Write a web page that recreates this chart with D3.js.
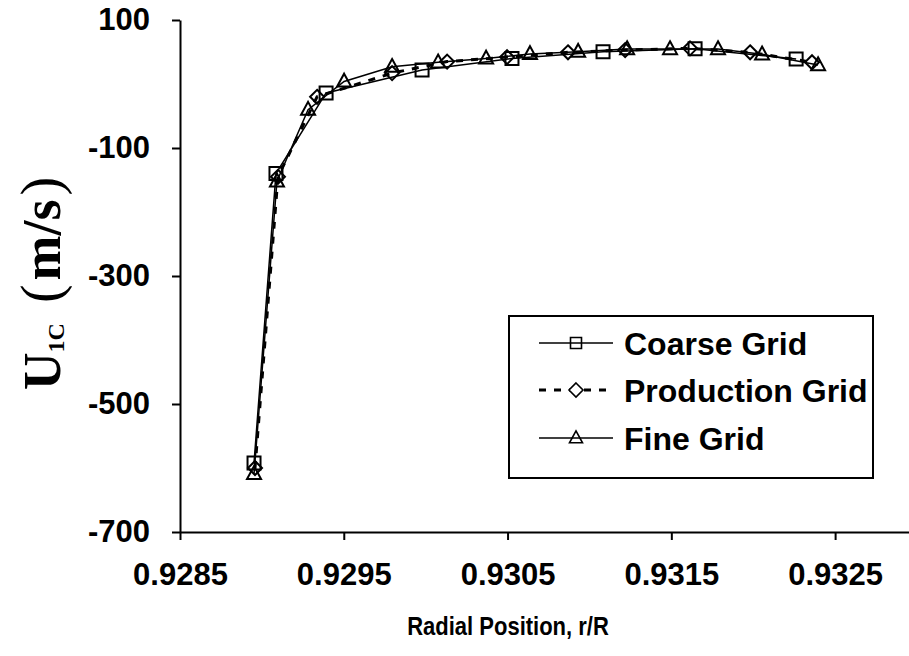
<!DOCTYPE html>
<html>
<head>
<meta charset="utf-8">
<script src="https://cdn.jsdelivr.net/npm/d3@7"></script>
<style>
  html, body { margin: 0; padding: 0; background: #fff; }
  svg { display: block; }
</style>
</head>
<body>
<svg id="chart" width="909" height="656"></svg>
<script>
// ---- data ----
const coarseR = [0.928952, 0.929086, 0.929392, 0.929978, 0.930527, 0.931083, 0.931645, 0.932262];
const coarseU = [-592, -140, -14, 22, 40, 50.5, 55, 39];

const productionR = [0.928958, 0.929098, 0.929337, 0.929795, 0.930131, 0.930497, 0.930869, 0.931218, 0.931614, 0.931981, 0.932359];
const productionU = [-600, -145, -20, 17, 35, 42, 49.5, 53, 55.7, 49.5, 34];

const fineR = [0.928952, 0.929092, 0.929282, 0.929502, 0.929795, 0.930076, 0.930369, 0.930637, 0.930931, 0.931230, 0.931492, 0.931785, 0.932054, 0.932396];
const fineU = [-609, -152, -40, 4, 27, 34, 40, 47, 50.5, 54.7, 54.7, 54.7, 46.4, 29.7];

const xTicks = [0.9285, 0.9295, 0.9305, 0.9315, 0.9325];
const yTicks = [100, -100, -300, -500, -700];
const seriesNames = ["Coarse Grid", "Production Grid", "Fine Grid"];
const xTitle = "Radial Position, r/R";

// ---- chart ----
const svg = d3.select("#chart");
const x = d3.scaleLinear().domain([0.9285, 0.9330]).range([180, 917]);
const y = d3.scaleLinear().domain([-700, 100]).range([532, 20]);

const font = "'Liberation Sans', Arial, sans-serif";

// symbols
const squareSym = { draw(ctx, size) { const h = Math.sqrt(size) / 2; ctx.rect(-h, -h, 2*h, 2*h); } };
const diamondSym = { draw(ctx, size) { const h = Math.sqrt(size) / 2; ctx.moveTo(0, -h); ctx.lineTo(h, 0); ctx.lineTo(0, h); ctx.lineTo(-h, 0); ctx.closePath(); } };
const triSym = { draw(ctx, size) { const w = Math.sqrt(size); const hh = w * 0.92; ctx.moveTo(0, -hh*0.6); ctx.lineTo(w/2, hh*0.4); ctx.lineTo(-w/2, hh*0.4); ctx.closePath(); } };

const series = [
  { name: seriesNames[0], r: coarseR, u: coarseU, sym: d3.symbol(squareSym, 169), legSym: d3.symbol(squareSym, 121), dash: null, width: 1.5 },
  { name: seriesNames[1], r: productionR, u: productionU, sym: d3.symbol(diamondSym, 196), legSym: d3.symbol(diamondSym, 196), dash: "7,8", width: 3 },
  { name: seriesNames[2], r: fineR, u: fineU, sym: d3.symbol(triSym, 196), legSym: d3.symbol(triSym, 169), dash: null, width: 1.5 }
];

const plotG = svg.append("g");

// axes
const fmtY = d => (d < 0 ? "-" + Math.abs(d) : String(d));
const yAxis = d3.axisLeft(y).tickValues(yTicks).tickSize(8).tickSizeOuter(0).tickPadding(22).tickFormat(fmtY);
const gy = svg.append("g").attr("transform", "translate(180,0)").call(yAxis);
const xAxis = d3.axisBottom(x).tickValues(xTicks).tickSize(8).tickSizeOuter(0).tickPadding(23).tickFormat(d3.format(".4f"));
const gx = svg.append("g").attr("transform", "translate(0,532)").call(xAxis);

[gx, gy].forEach(g => {
  g.select(".domain").attr("stroke", "#000").attr("stroke-width", 2);
  g.selectAll(".tick line").attr("stroke", "#000").attr("stroke-width", 2);
  g.selectAll(".tick text").attr("fill", "#000").style("font-family", font).style("font-weight", "bold").style("font-size", "31px");
});

// series lines and markers
series.forEach(s => {
  const pts = s.r.map((r, i) => [r, s.u[i]]);
  const line = d3.line().x(d => x(d[0])).y(d => y(d[1]));
  plotG.append("path").datum(pts)
    .attr("d", line)
    .attr("fill", "none")
    .attr("stroke", "#000")
    .attr("stroke-width", s.width)
    .attr("stroke-dasharray", s.dash);
  plotG.selectAll(null).data(pts).enter().append("path")
    .attr("transform", d => `translate(${x(d[0])},${y(d[1])})`)
    .attr("d", s.sym)
    .attr("fill", "none")
    .attr("stroke", "#000")
    .attr("stroke-width", 2);
});

// legend
const lg = svg.append("g");
lg.append("rect").attr("x", 509).attr("y", 316).attr("width", 364).attr("height", 162)
  .attr("fill", "#fff").attr("stroke", "#000").attr("stroke-width", 2);
const legY = [343, 390, 438];
series.forEach((s, i) => {
  lg.append("line").attr("x1", 539).attr("x2", 613).attr("y1", legY[i]).attr("y2", legY[i])
    .attr("stroke", "#000").attr("stroke-width", s.width).attr("stroke-dasharray", s.dash);
  lg.append("path").attr("transform", `translate(576,${legY[i]})`).attr("d", s.legSym)
    .attr("fill", s.dash ? "#fff" : "none").attr("stroke", "#000").attr("stroke-width", 1.6);
  lg.append("text").attr("x", 624).attr("y", legY[i]).attr("dy", "0.36em")
    .style("font-family", font).style("font-weight", "bold").style("font-size", "32px")
    .text(s.name);
});

// x title
svg.append("text").attr("transform", "translate(508,635) scale(0.88,1)").attr("text-anchor", "middle")
  .style("font-family", font).style("font-weight", "bold").style("font-size", "25px")
  .text(xTitle);

// y title
const yt = svg.append("text").attr("transform", "translate(60,390) rotate(-90)")
  .style("font-family", "'Liberation Serif', 'Times New Roman', serif").style("font-weight", "bold");
yt.append("tspan").style("font-size", "52px").text("U");
yt.append("tspan").style("font-size", "24px").attr("dy", 4).text("1C");
yt.append("tspan").style("font-size", "56px").attr("dy", -4).attr("dx", 20).style("font-weight", "normal").text("(");
yt.append("tspan").style("font-size", "54px").attr("dx", 4).text("m/s");
yt.append("tspan").style("font-size", "56px").attr("dx", 4).style("font-weight", "normal").text(")");
</script>
</body>
</html>
